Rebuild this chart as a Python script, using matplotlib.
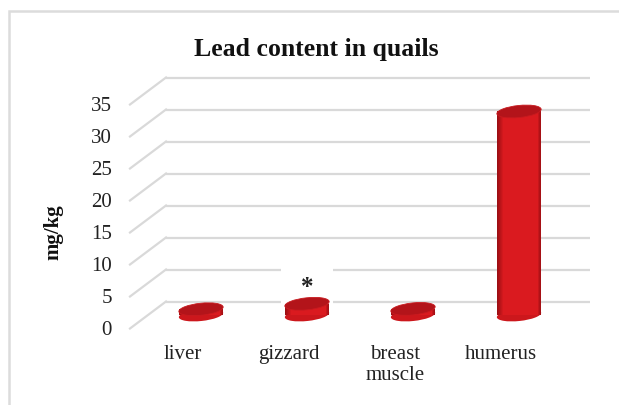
import numpy as np
import matplotlib.pyplot as plt
import matplotlib.colors as mcolors
from matplotlib.patches import Ellipse, Rectangle
from matplotlib.lines import Line2D
from matplotlib.transforms import ScaledTranslation, offset_copy, IdentityTransform

categories = ['liver', 'gizzard', 'breast\nmuscle', 'humerus']
values = [0.9, 1.75, 0.95, 31.8]
marks = ['', '*', '', '']
yticks = [0, 5, 10, 15, 20, 25, 30, 35]
title = 'Lead content in quails'
ylabel = 'mg/kg'

plt.rcParams['font.family'] = ['Liberation Serif', 'DejaVu Serif']

fig = plt.figure(figsize=(6.19, 4.06), dpi=100)

# middle plane of the fake 3d box (pixels), cylinders stand on it
px0, px1 = 148, 572
py0, ppu = 316, 6.4
ax = fig.add_axes([px0 / 619, (406 - py0) / 406, (px1 - px0) / 619, 35 * ppu / 406])
ax.set_xlim(-0.5, 3.5)
ax.set_ylim(0, 35)
ax.axis('off')

dx, dy = 18, 13.5
back = offset_copy(ax.transData, fig=fig, x=dx, y=dy, units='dots')
grid_c = '#d9d9d9'

# back wall grid + side wall diagonals
ax.hlines(yticks, -0.5, 3.5, colors=grid_c, lw=1.6, transform=back, zorder=1, clip_on=False)
for v in yticks:
    p = ax.transData.transform((-0.5, v))
    fig.add_artist(Line2D([p[0] - dx, p[0] + dx], [p[1] - dy, p[1] + dy],
                          color=grid_c, lw=1.6, transform=IdentityTransform()))
    ax.text(-0.5, v, str(v), transform=offset_copy(ax.transData, fig=fig, x=-dx - 18, y=-dy - 1, units='dots'),
            ha='right', va='center', fontsize=15, color='#222222')

for i, c in enumerate(categories):
    ax.text(i, 0, c, transform=offset_copy(ax.transData, fig=fig, x=-dx, y=-dy - 16, units='dots'),
            ha='center', va='top', fontsize=15, linespacing=1.08, color='#222222')

# cylinders
bw = 0.42
w_in = bw * (px1 - px0) / 4 / 100
h_in = 12 / 100
tilt = 6
dark = np.array(mcolors.to_rgb('#9c0e13'))
bright = np.array(mcolors.to_rgb('#da1a1f'))
n = 7
for i, v in enumerate(values):
    at0 = fig.dpi_scale_trans + ScaledTranslation(i, 0, ax.transData)
    ax.add_patch(Ellipse((0, 0), w_in, h_in, angle=tilt, transform=at0, fc='#cc171c', ec='none',
                         zorder=3, clip_on=False))
    for k in range(n):
        f = k / (n - 1)
        col = dark * (1 - f) + bright * f
        ax.bar(i + 0.012 * f, v, width=bw * (1 - 0.22 * f), color=col, zorder=4, clip_on=False)
    atv = fig.dpi_scale_trans + ScaledTranslation(i, v, ax.transData)
    ax.add_patch(Ellipse((0, 0), w_in, h_in, angle=tilt, transform=atv, fc='#b3141a', ec='#c81a1f',
                         lw=0.6, zorder=5, clip_on=False))
    if marks[i]:
        ax.annotate(marks[i], (i, v), xytext=(0, 11), textcoords='offset pixels', ha='center', va='baseline',
                    fontsize=18, fontweight='bold', color='#222222', zorder=2, annotation_clip=False,
                    bbox=dict(boxstyle='square,pad=0.8', fc='white', ec='none'))

fig.text(316 / 619, 1 - 56 / 406, title, ha='center', va='baseline', fontsize=18.5, fontweight='bold',
         color='#111111')
fig.text(53 / 619, 1 - 232 / 406, ylabel, rotation=90, ha='center', va='center', fontsize=15,
         fontweight='bold', color='#111111')

# outer frame of the chart area (cut off at right/bottom)
fig.patches.append(Rectangle((8.5 / 619, -0.2), 1.2, 1.2 - 12 / 406, transform=fig.transFigure,
                             fill=False, ec='#dcdcdc', lw=1.8))

fig.savefig('out.png', dpi=100)
